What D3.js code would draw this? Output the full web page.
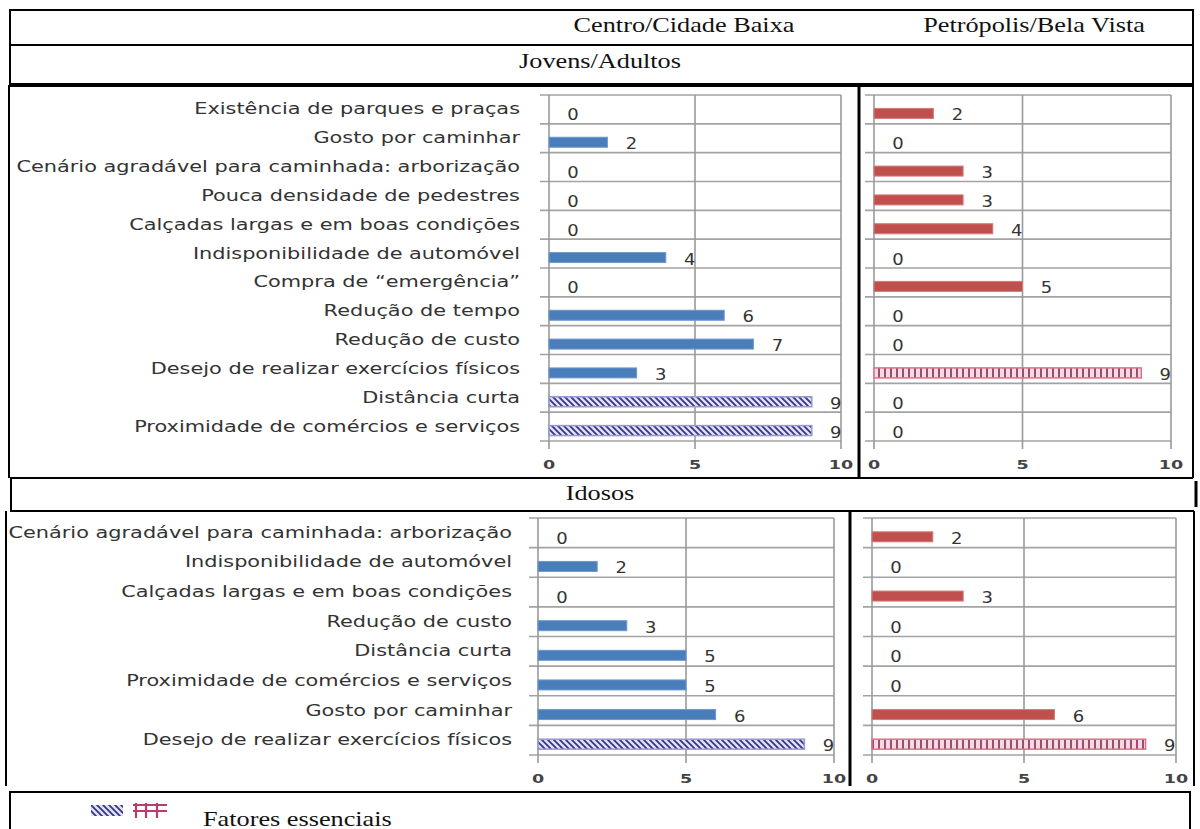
<!DOCTYPE html>
<html>
<head>
<meta charset="utf-8">
<script src="https://cdn.jsdelivr.net/npm/d3@7"></script>
<style>
  body { margin: 0; background: #fff; }
  .cat { font-family: "DejaVu Sans", Verdana, sans-serif; font-size: 15px; fill: #333; }
  .val { font-family: "DejaVu Sans", Verdana, sans-serif; font-size: 15px; fill: #333; }
  .tick { font-family: "DejaVu Sans", Verdana, sans-serif; font-size: 13px; font-weight: bold; fill: #444; }
  .head { font-family: "Liberation Serif", "Times New Roman", serif; font-size: 21px; fill: #111; }
</style>
</head>
<body>
<div id="vis"></div>
<script>

// categorias e valores (Jovens/Adultos)
const catsYA = ["Existência de parques e praças", "Gosto por caminhar",
  "Cenário agradável para caminhada: arborização", "Pouca densidade de pedestres",
  "Calçadas largas e em boas condições", "Indisponibilidade de automóvel",
  "Compra de “emergência”", "Redução de tempo", "Redução de custo",
  "Desejo de realizar exercícios físicos", "Distância curta",
  "Proximidade de comércios e serviços"];
const centroYA = [0, 2, 0, 0, 0, 4, 0, 6, 7, 3, 9, 9];
const petroYA  = [2, 0, 3, 3, 4, 0, 5, 0, 0, 9, 0, 0];
const essCentroYA = ["Distância curta", "Proximidade de comércios e serviços"];
const essPetroYA  = ["Desejo de realizar exercícios físicos"];

// categorias e valores (Idosos)
const catsID = ["Cenário agradável para caminhada: arborização", "Indisponibilidade de automóvel",
  "Calçadas largas e em boas condições", "Redução de custo", "Distância curta",
  "Proximidade de comércios e serviços", "Gosto por caminhar",
  "Desejo de realizar exercícios físicos"];
const centroID = [0, 2, 0, 3, 5, 5, 6, 9];
const petroID  = [2, 0, 3, 0, 0, 0, 6, 9];
const essCentroID = ["Desejo de realizar exercícios físicos"];
const essPetroID  = ["Desejo de realizar exercícios físicos"];

const TICKS = [0, 5, 10];
const HEADERS = ["Centro/Cidade Baixa", "Petrópolis/Bela Vista"];
const GROUPS = ["Jovens/Adultos", "Idosos"];
const LEGEND = "Fatores essenciais";

const W = 1200, H = 829;
const SX = 1.39;   // texto esticado na horizontal
const SXH = 1.25;

const svg = d3.select("#vis").append("svg")
  .attr("width", W).attr("height", H);

const defs = svg.append("defs");
const pb = defs.append("pattern").attr("id", "hatchBlue")
  .attr("width", 6).attr("height", 6).attr("patternUnits", "userSpaceOnUse");
pb.append("rect").attr("width", 6).attr("height", 6).attr("fill", "#e2e2f2");
pb.append("path").attr("d", "M0,0L6,6M-1,5L1,7M5,-1L7,1")
  .attr("stroke", "#34348a").attr("stroke-width", 1.8);

const pr = defs.append("pattern").attr("id", "gridRed")
  .attr("width", 6).attr("height", 12).attr("patternUnits", "userSpaceOnUse");
pr.append("rect").attr("width", 6).attr("height", 12).attr("fill", "#f7d9de");
pr.append("line").attr("x1", 3).attr("x2", 3).attr("y1", 0).attr("y2", 12)
  .attr("stroke", "#7e2a5c").attr("stroke-width", 1.6);

function txt(g, x, y, s, cls, anchor, sx) {
  g.append("text")
    .attr("class", cls)
    .attr("text-anchor", anchor || "start")
    .attr("transform", "translate(" + x + "," + y + ") scale(" + (sx || SX) + ",1)")
    .text(s);
}

function line(x1, y1, x2, y2, w) {
  svg.append("line")
    .attr("x1", x1).attr("y1", y1).attr("x2", x2).attr("y2", y2)
    .attr("stroke", "#000").attr("stroke-width", w || 2);
}

function panel(cfg) {
  const g = svg.append("g");
  const X = d3.scaleLinear().domain([0, 10]).range([cfg.x0, cfg.x1]);
  const Y = d3.scaleBand().domain(cfg.cats).range([cfg.y0, cfg.y1]);
  const bounds = cfg.cats.map(c => Y(c)).concat([cfg.y1]);

  g.selectAll(".hg").data(bounds).enter().append("line")
    .attr("x1", cfg.x0 - 9).attr("x2", X(10))
    .attr("y1", d => d).attr("y2", d => d)
    .attr("stroke", "#a3a3a3").attr("stroke-width", 1.6);

  g.selectAll(".vg").data(TICKS).enter().append("line")
    .attr("x1", d => X(d)).attr("x2", d => X(d))
    .attr("y1", cfg.y0).attr("y2", cfg.y1 + 8)
    .attr("stroke", "#9a9a9a").attr("stroke-width", 1.6);

  TICKS.forEach(t => txt(g, X(t), cfg.y1 + 28, t, "tick", "middle", 1.35));

  const off = 4;
  cfg.cats.forEach((c, i) => {
    const v = cfg.vals[i];
    const cy = Y(c) + Y.bandwidth() / 2 + off;
    const ess = cfg.ess.includes(c);
    if (v > 0) {
      g.append("rect")
        .attr("x", X(0)).attr("y", cy - 5)
        .attr("width", X(v) - X(0)).attr("height", 10)
        .attr("fill", ess ? cfg.pattern : cfg.color)
        .attr("stroke", ess ? cfg.essStroke : cfg.stroke)
        .attr("stroke-width", ess ? 1.5 : 1);
    }
    txt(g, X(v) + 24, cy + 7, v, "val", "middle", 1.2);
    if (cfg.labels) {
      txt(g, cfg.x0 - cfg.gap, Y(c) + Y.bandwidth() / 2 + 5, c, "cat", "end");
    }
  });
}

// moldura do cabeçalho
svg.append("rect").attr("x", 10).attr("y", 10).attr("width", 1183).attr("height", 74)
  .attr("fill", "none").attr("stroke", "#000").attr("stroke-width", 2);
line(10, 45, 1193, 45);
txt(svg, 684, 32, HEADERS[0], "head", "middle", SXH);
txt(svg, 1034, 32, HEADERS[1], "head", "middle", SXH);
txt(svg, 600, 68, GROUPS[0], "head", "middle", SXH);

// bloco Jovens/Adultos
line(8, 86, 1193, 86);
line(9, 85, 9, 478);
line(859, 85, 859, 478, 3);
line(1193, 85, 1193, 478);
line(10, 478, 1193, 478);

// linha Idosos
line(11, 478, 11, 511);
line(10, 511, 1194, 511);
line(1196, 481, 1196, 507, 3);
txt(svg, 600, 500, GROUPS[1], "head", "middle", SXH);

// bloco Idosos
line(6, 511, 6, 786);
line(850, 511, 850, 786, 3);
line(1194, 511, 1194, 786);

// legenda
svg.append("rect").attr("x", 10).attr("y", 792).attr("width", 1180).attr("height", 50)
  .attr("fill", "none").attr("stroke", "#000").attr("stroke-width", 2);
svg.append("rect").attr("x", 91).attr("y", 805).attr("width", 32).attr("height", 11)
  .attr("fill", "url(#hatchBlue)");
const lg = svg.append("g").attr("stroke", "#b83c6c").attr("stroke-width", 2.2).attr("fill", "none");
lg.append("path").attr("d", "M133,805H167M133,811H167M136,803V818M146,803V818M157,803V818");
txt(svg, 203, 826, LEGEND, "head", "start", SXH);

const BLUE = {color: "#4a7ebb", stroke: "#6d98cc", pattern: "url(#hatchBlue)", essStroke: "#9a9ad0"};
const RED = {color: "#c0504d", stroke: "#d47a78", pattern: "url(#gridRed)", essStroke: "#e07088"};

panel(Object.assign({cats: catsYA, vals: centroYA, ess: essCentroYA,
  x0: 549, x1: 841, y0: 95, y1: 441, labels: true, gap: 29}, BLUE));
panel(Object.assign({cats: catsYA, vals: petroYA, ess: essPetroYA,
  x0: 874, x1: 1171, y0: 95, y1: 441, labels: false}, RED));
panel(Object.assign({cats: catsID, vals: centroID, ess: essCentroID,
  x0: 538, x1: 834, y0: 518, y1: 755, labels: true, gap: 26}, BLUE));
panel(Object.assign({cats: catsID, vals: petroID, ess: essPetroID,
  x0: 872, x1: 1176, y0: 518, y1: 755, labels: false}, RED));

</script>
</body>
</html>
